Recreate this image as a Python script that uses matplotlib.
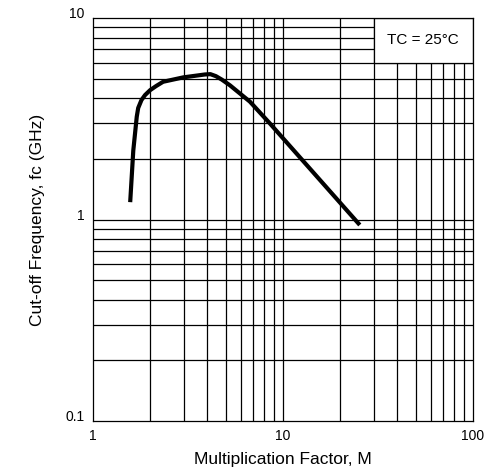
import numpy as np
import matplotlib
matplotlib.use("Agg")
import matplotlib.pyplot as plt
from matplotlib.patches import Rectangle

plt.rcParams['font.family'] = ['Liberation Sans', 'DejaVu Sans']

# curve
M = [1.57, 1.63, 1.70, 1.73, 1.80, 1.88, 2.0, 2.15, 2.34, 2.99, 3.6, 3.88, 4.15,
     4.44, 4.77, 5.26, 6.7, 8.54, 25.4]
fc = [1.22, 2.2, 3.24, 3.58, 3.92, 4.15, 4.39, 4.6, 4.83, 5.08, 5.2, 5.25, 5.27,
      5.15, 4.95, 4.64, 3.85, 3.0, 0.94]

xticks = [1, 10, 100]
yticks = [0.1, 1, 10]
tick_labels_y = ["0.1", "1", "10"]

fig = plt.figure(figsize=(4.92, 4.74), dpi=100)
ax = fig.add_axes([0.189, 0.1118, 0.772, 0.850])
ax.set_xscale("log")
ax.set_yscale("log")
ax.set_xlim(1, 100)
ax.set_ylim(0.1, 10)

# grid on every decade step
for v in np.concatenate([np.arange(2, 10), np.arange(10, 100, 10)]):
    ax.axvline(v, color="black", lw=0.9, zorder=1)
for v in np.concatenate([np.arange(0.2, 1.0, 0.1), np.arange(1, 10)]):
    ax.axhline(v, color="black", lw=0.9, zorder=1)

# legend box hides the grid behind it
ax.add_patch(Rectangle((30, 6), 70, 4, facecolor="white", edgecolor="black",
                       lw=0.9, zorder=2))
ax.text(np.sqrt(30 * 100), np.sqrt(6 * 10), "TC = 25°C", ha="center", va="center",
        fontsize=11, zorder=3)

ax.plot(M, fc, color="black", lw=3.0, solid_capstyle="butt",
        solid_joinstyle="round", zorder=4)

ax.set_xticks(xticks, [str(t) for t in xticks])
ax.set_yticks(yticks, tick_labels_y)
ax.xaxis.set_minor_locator(matplotlib.ticker.NullLocator())
ax.yaxis.set_minor_locator(matplotlib.ticker.NullLocator())
ax.tick_params(length=0, labelsize=10)
ax.tick_params(axis="x", pad=6)
ax.tick_params(axis="y", pad=6)
for lbl in ax.get_yticklabels():
    lbl.set_verticalalignment("baseline")
for s in ax.spines.values():
    s.set_linewidth(0.9)

ax.set_xlabel("Multiplication Factor, M", fontsize=12.5, labelpad=6)
ax.set_ylabel("Cut-off Frequency, fc (GHz)", fontsize=12.5, labelpad=15)

fig.savefig("out.png", dpi=100)
